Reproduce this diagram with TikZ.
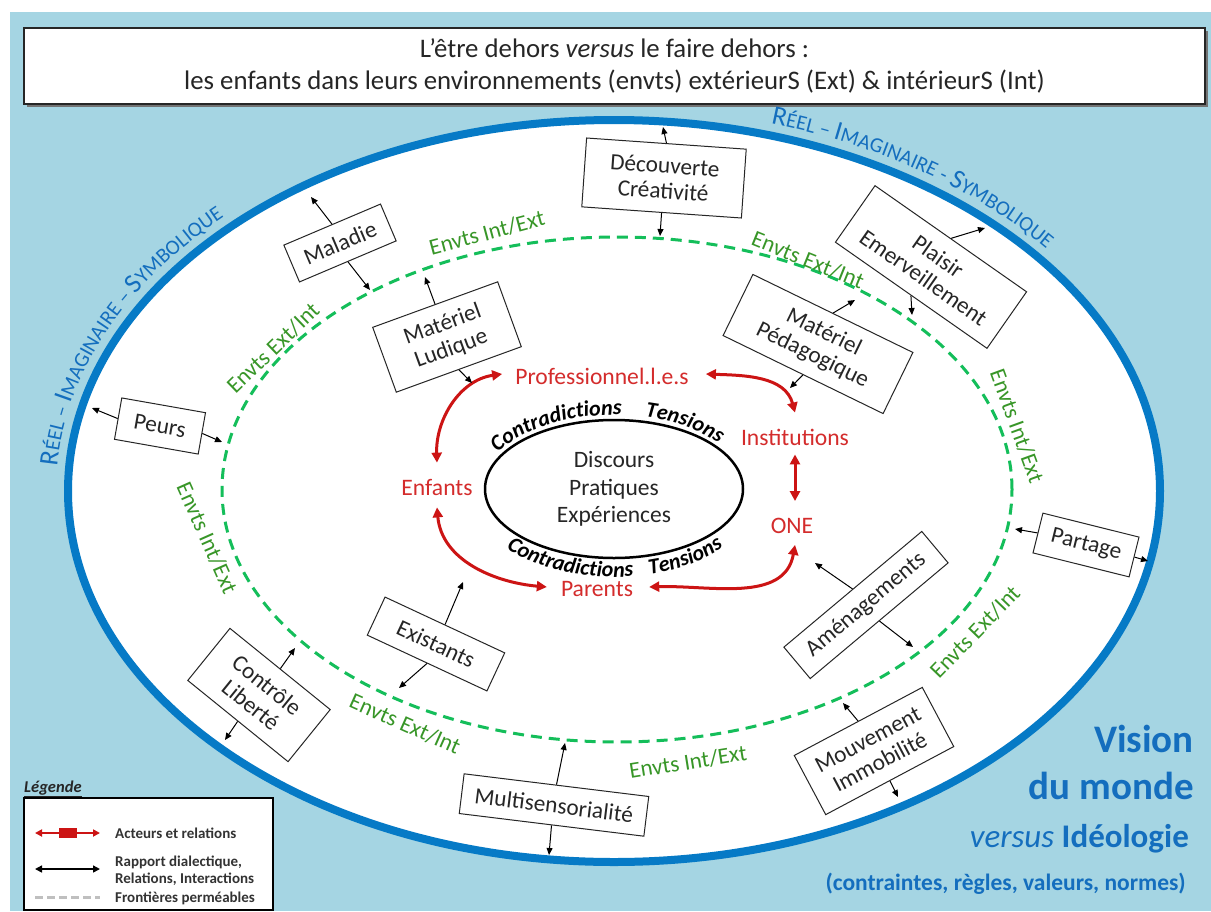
\documentclass[tikz,border=0pt]{standalone}
\usepackage{fontspec}
\setmainfont{Carlito}
\usetikzlibrary{arrows.meta,calc,decorations.text,shapes.geometric}
\definecolor{bgblue}{RGB}{165,213,227}
\definecolor{ringblue}{RGB}{6,122,198}
\definecolor{txtblue}{RGB}{20,110,190}
\definecolor{grdash}{RGB}{20,190,90}
\definecolor{grtxt}{RGB}{56,150,40}
\definecolor{redtxt}{RGB}{212,44,44}
\definecolor{redarr}{RGB}{204,20,20}
\definecolor{dark}{RGB}{38,38,38}
\begin{document}
\begin{tikzpicture}[x=1pt,y=1pt,
 box/.style={draw=black!85, fill=white, line width=1pt, align=center, inner sep=0pt, text=dark, font=\fontsize{23.3}{25.5}\selectfont},
 lab/.style={text=redtxt, font=\fontsize{23.6}{25}\selectfont, inner sep=1pt},
 env/.style={text=grtxt, font=\fontsize{23}{25}\selectfont, inner sep=0pt},
 link/.style={draw=black, line width=1pt, -{Triangle[length=7pt,width=6pt]}},
 rel/.style={draw=redarr, line width=3pt, {Triangle[length=10pt,width=10pt]}-{Triangle[length=10pt,width=10pt]}},
 legtxt/.style={anchor=west, text=black!80, font=\fontsize{15}{17}\selectfont\bfseries, align=left, inner sep=0pt},
]
\useasboundingbox (0,0) rectangle (1211,-911);
\fill[white] (0,0) rectangle (1211,-911);
\fill[bgblue] (10,-12) rectangle (1211,-911);

% title
\fill[black!55] (27,-31) rectangle (1208,-107);
\node[draw=black!85, fill=white, line width=1.2pt, minimum width=1181pt, minimum height=76pt, inner sep=0pt, align=center, font=\fontsize{26.8}{32}\selectfont, text=dark] (title) at (614.5,-66) {L’être dehors \textit{versus} le faire dehors :\\ les enfants dans leurs environnements (envts) extérieurS (Ext) \& intérieurS (Int)};

% ellipses
\coordinate (oc) at (614,-491);
\draw[ringblue, line width=8pt, fill=white] (oc) ellipse [x radius=546, y radius=371];
\coordinate (gc) at (617,-489.5);
\draw[grdash, line width=3pt, dash pattern=on 11pt off 7pt] (gc) ellipse [x radius=395, y radius=252.5];
\node[ellipse, draw=black, line width=2.5pt, minimum width=258pt, minimum height=138pt, inner sep=0pt, align=center, text=dark, font=\fontsize{23.5}{27.5}\selectfont] (core) at (614,-489) {Discours\\Pratiques\\Expériences};
\coordinate (ic) at (614,-489);

% curved blue text
\path[decorate, decoration={text along path, text color=txtblue, text align=center,
 text={|\fontsize{27}{27}\selectfont|R|\fontsize{21}{21}\selectfont|ÉEL – |\fontsize{27}{27}\selectfont|I|\fontsize{21}{21}\selectfont|MAGINAIRE – |\fontsize{27}{27}\selectfont|S|\fontsize{21}{21}\selectfont|YMBOLIQUE}}]
 ([shift={(187:558 and 383)}]oc) arc[start angle=187, end angle=126, x radius=558, y radius=383];
\path[decorate, decoration={text along path, text color=txtblue, text align=center,
 text={|\fontsize{27}{27}\selectfont|R|\fontsize{21}{21}\selectfont|ÉEL – |\fontsize{27}{27}\selectfont|I|\fontsize{21}{21}\selectfont|MAGINAIRE - |\fontsize{27}{27}\selectfont|S|\fontsize{21}{21}\selectfont|YMBOLIQUE}}]
 ([shift={(85:558 and 383)}]oc) arc[start angle=85, end angle=25, x radius=558, y radius=383];

% contradictions / tensions
\path[decorate, decoration={text along path, text align=center, text={|\fontsize{22}{22}\selectfont\bfseries\itshape|Contradictions}}]
 ([shift={(152:133 and 74)}]ic) arc[start angle=152, end angle=86, x radius=133, y radius=74];
\path[decorate, decoration={text along path, text align=center, text={|\fontsize{22}{22}\selectfont\bfseries\itshape|Tensions}}]
 ([shift={(78:133 and 74)}]ic) arc[start angle=78, end angle=36, x radius=133, y radius=74];
\path[decorate, decoration={text along path, text align=center, text={|\fontsize{22}{22}\selectfont\bfseries\itshape|Contradictions}}]
 ([shift={(222:146 and 88)}]ic) arc[start angle=222, end angle=278, x radius=146, y radius=88];
\path[decorate, decoration={text along path, text align=center, text={|\fontsize{22}{22}\selectfont\bfseries\itshape|Tensions}}]
 ([shift={(283:146 and 88)}]ic) arc[start angle=283, end angle=320, x radius=146, y radius=88];

% actors
\node[lab] (prof) at (602,-376) {Professionnel.l.e.s};
\node[lab] (inst) at (795,-437) {Institutions};
\node[lab] (enf) at (437,-487) {Enfants};
\node[lab] (one) at (792,-526) {ONE};
\node[lab] (par) at (597,-589) {Parents};
\draw[rel] ($(prof.west)+(-12,2)$) to[out=188,in=92] ($(enf.north)+(0,15)$);
\draw[rel] ($(enf.south)+(0,-11)$) to[out=-85,in=175] ($(par.west)+(-13,2)$);
\draw[rel] ($(par.east)+(15,2)$) to[out=2,in=-100] ($(one.south)+(3,-10)$);
\draw[rel] ($(inst.south)+(0,-8)$) -- ($(one.north)+(3,16)$);
\draw[rel] ($(prof.east)+(16,2)$) to[out=-2,in=105] ($(inst.north)+(0,15)$);

% boxes
\node[box, rotate=-4, minimum width=160pt, minimum height=69pt] (dec) at (664,-178) {Découverte\\Créativité};
\node[box, rotate=23, minimum width=105pt, minimum height=40pt] (mal) at (340,-243) {Maladie};
\node[box, rotate=20, minimum width=133pt, minimum height=69pt] (mlud) at (447,-337) {Matériel\\Ludique};
\node[box, rotate=-26, minimum width=178pt, minimum height=68pt] (mped) at (818,-344) {Matériel\\Pédagogique};
\node[box, rotate=-35, minimum width=185pt, minimum height=69pt] (pla) at (931,-267) {Plaisir\\Emerveillement};
\node[box, rotate=-10, minimum width=85pt, minimum height=42pt] (peu) at (160,-426) {Peurs};
\node[box, rotate=-14, minimum width=99pt, minimum height=41pt] (prt) at (1086,-545) {Partage};
\node[box, rotate=40, minimum width=180pt, minimum height=41pt] (ame) at (866,-605) {Aménagements};
\node[box, rotate=28, minimum width=145pt, minimum height=67pt] (mou) at (874,-751) {Mouvement\\Immobilité};
\node[box, rotate=-7, minimum width=186pt, minimum height=40pt] (mul) at (554,-805) {Multisensorialité};
\node[box, rotate=-25, minimum width=132pt, minimum height=42pt] (exi) at (436,-644) {Existants};
\node[box, rotate=-39, minimum width=129pt, minimum height=67pt] (con) at (259,-695) {Contrôle\\Liberté};

% arrow targets
\coordinate (decU) at (663,-127);  \coordinate (decD) at (660,-236);
\coordinate (malU) at (311,-197);  \coordinate (malD) at (370,-290);
\coordinate (mludU) at (425,-277); \coordinate (mludD) at (472,-383);
\coordinate (mpedU) at (855,-300); \coordinate (mpedD) at (790,-388);
\coordinate (plaU) at (985,-228);  \coordinate (plaD) at (912,-315);
\coordinate (peuL) at (92,-408);   \coordinate (peuR) at (222,-442);
\coordinate (prtL) at (1015,-529); \coordinate (prtR) at (1148,-561);
\coordinate (ameU) at (815,-563);  \coordinate (ameD) at (913,-647);
\coordinate (mouU) at (843,-703);  \coordinate (mouD) at (898,-797);
\coordinate (mulU) at (565,-743);  \coordinate (mulD) at (549,-855);
\coordinate (exiU) at (463,-582);  \coordinate (exiD) at (399,-688);
\coordinate (conU) at (295,-648);  \coordinate (conD) at (225,-740);

\draw[link] (dec.north) -- (decU);   \draw[link] (dec.south) -- (decD);
\draw[link] (mal.north) -- (malU);   \draw[link] (mal.south) -- (malD);
\draw[link] (mlud.north) -- (mludU); \draw[link] (mlud.south) -- (mludD);
\draw[link] (mped.north) -- (mpedU); \draw[link] (mped.south) -- (mpedD);
\draw[link] (pla.north) -- (plaU);   \draw[link] (pla.south) -- (plaD);
\draw[link] (peu.west) -- (peuL);    \draw[link] (peu.east) -- (peuR);
\draw[link] (prt.west) -- (prtL);    \draw[link] (prt.east) -- (prtR);
\draw[link] (ame.north) -- (ameU);   \draw[link] (ame.south) -- (ameD);
\draw[link] (mou.north) -- (mouU);   \draw[link] (mou.south) -- (mouD);
\draw[link] (mul.north) -- (mulU);   \draw[link] (mul.south) -- (mulD);
\draw[link] (exi.north) -- (exiU);   \draw[link] (exi.south) -- (exiD);
\draw[link] (con.north) -- (conU);   \draw[link] (con.south) -- (conD);

% green labels
\node[env, rotate=15] (e1) at (487,-233) {Envts Int/Ext};
\node[env, rotate=-22] (e2) at (808,-260) {Envts Ext/Int};
\node[env, rotate=44] (e3) at (273,-348) {Envts Ext/Int};
\node[env, rotate=-66] (e4) at (207,-538) {Envts Int/Ext};
\node[env, rotate=-24] (e5) at (405,-724) {Envts Ext/Int};
\node[env, rotate=9] (e6) at (688,-762) {Envts Int/Ext};
\node[env, rotate=46] (e7) at (975,-632) {Envts Ext/Int};
\node[env, rotate=-70] (e8) at (1017,-426) {Envts Int/Ext};

% vision
\node[anchor=base east, text=txtblue, font=\fontsize{39}{39}\selectfont\bfseries, inner sep=0pt] (v1) at (1194,-752) {Vision};
\node[anchor=base east, text=txtblue, font=\fontsize{39}{39}\selectfont\bfseries, inner sep=0pt] (v2) at (1194,-799) {du monde};
\node[anchor=base east, text=txtblue, font=\fontsize{33}{33}\selectfont, inner sep=0pt] (v3) at (1189,-847) {\textit{versus} \textbf{Idéologie}};
\node[anchor=base east, text=txtblue, font=\fontsize{23.5}{24}\selectfont\bfseries, inner sep=0pt] (v4) at (1186,-890) {(contraintes, règles, valeurs, normes)};

% legend
\node[anchor=base west, text=black!85, font=\fontsize{16.5}{17}\selectfont\bfseries\itshape, inner sep=0pt] (legt) at (24,-792) {\underline{Légende}};
\node[draw=black, line width=2pt, fill=white, minimum width=249pt, minimum height=112pt, anchor=north west, inner sep=0pt] (legbox) at (23,-797) {};
\coordinate (la1) at (35,-833); \coordinate (lb1) at (100,-833);
\coordinate (la2) at (35,-869); \coordinate (lb2) at (100,-869);
\coordinate (la3) at (35,-897); \coordinate (lb3) at (100,-897);
\draw[redarr, line width=1.8pt, {Triangle[length=7pt,width=7pt]}-{Triangle[length=7pt,width=7pt]}] (la1) -- (lb1);
\fill[redarr] (59,-828) rectangle (77,-838);
\draw[black, line width=1.5pt, {Triangle[length=7pt,width=7pt]}-{Triangle[length=7pt,width=7pt]}] (la2) -- (lb2);
\draw[black!25, line width=3pt, dash pattern=on 8pt off 4pt] (la3) -- (lb3);
\node[legtxt] (l1) at (115,-833) {Acteurs et relations};
\node[legtxt] (l2) at (115,-871) {Rapport dialectique,\\Relations, Interactions};
\node[legtxt] (l3) at (115,-898) {Frontières perméables};
\end{tikzpicture}
\end{document}
